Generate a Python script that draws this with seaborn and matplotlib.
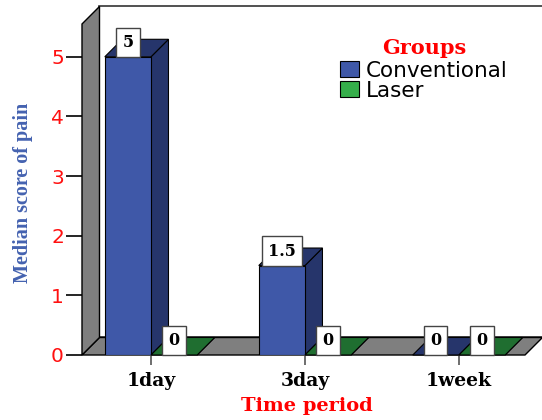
import pandas as pd
import seaborn as sns
import matplotlib.pyplot as plt
from matplotlib.patches import Polygon, Patch

# Median pain scores per time period and treatment group
periods = ["1day", "3day", "1week"]
groups = ["Conventional", "Laser"]
conventional = [5, 1.5, 0]
laser = [0, 0, 0]
y_ticks = [0, 1, 2, 3, 4, 5]

df = pd.DataFrame({
    "period": periods * 2,
    "group": [groups[0]] * len(periods) + [groups[1]] * len(periods),
    "score": conventional + laser,
})

front_col = {"Conventional": "#3F58A8", "Laser": "#35AE4A"}
dark_col = {"Conventional": "#26356B", "Laser": "#1F6E30"}
wall_gray = "#7F7F7F"

sns.set_style("white")
plt.rcParams["font.family"] = ["DejaVu Sans"]
plt.rcParams["text.color"] = "black"

fig = plt.figure(figsize=(5.42, 4.2), dpi=100)
W, H = 542, 420
ax = fig.add_axes([82 / W, 65 / H, 443 / W, 331 / H])
ax.patch.set_visible(False)

sns.barplot(data=df, x="period", y="score", hue="group", order=periods,
            hue_order=groups, palette=front_col, saturation=1, width=0.6,
            errorbar=None, legend=False, ax=ax, edgecolor="black",
            linewidth=0.8)

xmin, xmax = -0.448, 2.429
ymin, ymax = 0, 5.55
ax.set_xlim(xmin, xmax)
ax.set_ylim(ymin, ymax)

# depth offset of the pseudo-3D frame, in data units
dx, dy = 17.5 / 154, 17.5 / 59.6

# back wall, floor and left wall
ax.add_patch(Polygon([(xmin + dx, dy), (xmax + 0.3, dy), (xmax + 0.3, ymax + dy),
                      (xmin + dx, ymax + dy)], closed=True, facecolor="white",
                     edgecolor="#333333", lw=1.2, zorder=0.1, clip_on=False))
ax.add_patch(Polygon([(xmin, 0), (xmax, 0), (xmax + dx, dy), (xmin + dx, dy)],
                     closed=True, facecolor=wall_gray, edgecolor="black",
                     lw=1.0, zorder=0.2, clip_on=False))
ax.add_patch(Polygon([(xmin, 0), (xmin, ymax), (xmin + dx, ymax + dy), (xmin + dx, dy)],
                     closed=True, facecolor=wall_gray, edgecolor="black",
                     lw=1.0, zorder=0.3, clip_on=False))

# side and top faces of every bar, then the value boxes
for gi, container in enumerate(ax.containers):
    g = groups[gi]
    for bar in container:
        x0, w, h = bar.get_x(), bar.get_width(), bar.get_height()
        x1 = x0 + w
        z = 2 + x0
        side = Polygon([(x1, 0), (x1, h), (x1 + dx, h + dy), (x1 + dx, dy)],
                       closed=True, facecolor=dark_col[g], edgecolor="black",
                       lw=0.8, zorder=z, clip_on=False)
        top = Polygon([(x0, h), (x1, h), (x1 + dx, h + dy), (x0 + dx, h + dy)],
                      closed=True, facecolor=dark_col[g], edgecolor="black",
                      lw=0.8, zorder=z, clip_on=False)
        ax.add_patch(side)
        ax.add_patch(top)
        bar.set_zorder(z + 0.01)
        label = f"{h:g}"
        ax.annotate(label, xy=(x0 + w / 2, h), xytext=(0, 4.3),
                    textcoords="offset points", ha="center", va="bottom",
                    fontsize=11.5, fontweight="bold", family="DejaVu Serif",
                    color="black", zorder=20,
                    bbox=dict(boxstyle="square,pad=0.38", facecolor="white",
                              edgecolor="#444444", lw=1.0))

for s in ax.spines.values():
    s.set_visible(False)

ax.set_yticks(y_ticks)
ax.set_yticklabels([str(t) for t in y_ticks])
ax.tick_params(axis="y", length=11.5, width=1.2, color="black", pad=1.5,
               labelsize=14.5, labelcolor="#FF1010", left=True)
ax.tick_params(axis="x", length=7, width=1.2, color="#555555", pad=5,
               labelsize=13.5, labelcolor="black", bottom=True)
for t in ax.get_xticklabels():
    t.set_family("DejaVu Serif")
    t.set_fontweight("bold")

ax.set_xlabel("Time period", family="DejaVu Serif", fontweight="bold",
              fontsize=14, color="#FF0000", va="center")
ax.xaxis.set_label_coords((307 - 82) / 443, -(406 - 355) / 331)
ax.set_ylabel("Median score of pain", family="Liberation Serif",
              fontweight="bold", fontsize=14.5, color="#4462B0",
              va="center", ha="center")
ax.yaxis.set_label_coords((23 - 82) / 443, (355 - 193) / 331)

handles = [Patch(facecolor=front_col[g], edgecolor="black", lw=0.8) for g in groups]
leg = fig.legend(handles, groups, title="Groups", loc="upper left",
                 bbox_to_anchor=(340 / W, 1 - 38 / H), frameon=False,
                 borderpad=0, borderaxespad=0, fontsize=15.5,
                 handlelength=0.9, handleheight=0.75, handletextpad=0.3,
                 labelspacing=0.0)
leg._legend_box.sep = 2
for t in leg.get_texts():
    t.set_color("black")
leg.get_title().set_fontfamily("DejaVu Serif")
leg.get_title().set_fontweight("bold")
leg.get_title().set_color("#FF0000")
leg.get_title().set_fontsize(15)

fig.savefig("out.png", dpi=100)
